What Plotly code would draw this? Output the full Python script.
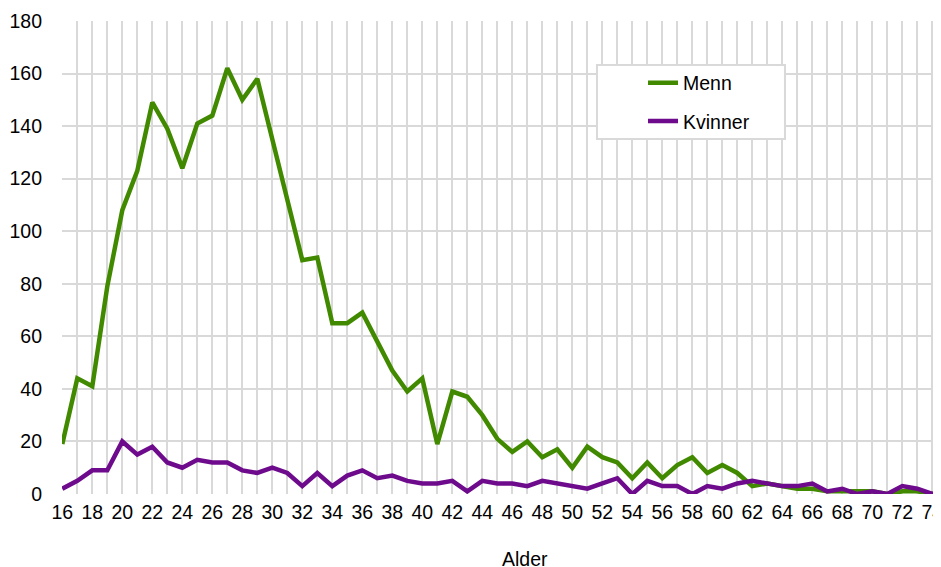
import plotly.graph_objects as go

# Alder 16-75
ages = list(range(16, 76))

menn = [
    19, 44, 41, 79, 108, 123, 149, 139, 124, 141,
    144, 162, 150, 158, 135, 112, 89, 90, 65, 65,
    69, 58, 47, 39, 44, 19, 39, 37, 30, 21,
    16, 20, 14, 17, 10, 18, 14, 12, 6, 12,
    6, 11, 14, 8, 11, 8, 3, 4, 3, 2,
    2, 1, 1, 1, 1, 0, 1, 1, 0, 0,
]

kvinner = [
    2, 5, 9, 9, 20, 15, 18, 12, 10, 13,
    12, 12, 9, 8, 10, 8, 3, 8, 3, 7,
    9, 6, 7, 5, 4, 4, 5, 1, 5, 4,
    4, 3, 5, 4, 3, 2, 4, 6, 0, 5,
    3, 3, 0, 3, 2, 4, 5, 4, 3, 3,
    4, 1, 2, 0, 1, 0, 3, 2, 0, 1,
]

GREEN = "#418a00"
PURPLE = "#6e0a8c"
GRID = "#d9d9d9"
FONT = "Liberation Sans, Arial, sans-serif"
FS = 19.5

fig = go.Figure()
fig.add_trace(go.Scatter(x=ages, y=menn, name="Menn", mode="lines", legendgroup="m",
                         line={"color": GREEN, "width": 4.5}))
fig.add_trace(go.Scatter(x=ages, y=kvinner, name="Kvinner", mode="lines", legendgroup="k",
                         line={"color": PURPLE, "width": 4.5}))

# page body has an 8px margin; size the figure so it fits the window without scrolling
fig.update_layout(
    width=933,
    height=559,
    margin={"l": 54, "r": 0, "t": 13, "b": 73},
    paper_bgcolor="white",
    plot_bgcolor="white",
    font={"family": FONT, "size": FS, "color": "#000000"},
    showlegend=True,
    legend={
        "x": 0.661,
        "y": 0.910,
        "xanchor": "left",
        "yanchor": "top",
        "bgcolor": "rgba(0,0,0,0)",
        "borderwidth": 0,
        "font": {"size": FS},
        "traceorder": "grouped",
        "tracegroupgap": 10,
    },
    xaxis={
        "range": [15.98, 74.58],
        "tick0": 16,
        "dtick": 2,
        "showgrid": True,
        "gridcolor": GRID,
        "gridwidth": 2,
        "minor": {"dtick": 1, "showgrid": True, "gridcolor": GRID, "gridwidth": 2},
        "zeroline": False,
        "showline": False,
        "ticks": "",
        "automargin": False,
        "ticklabelstandoff": 4,
        "ticklabeloverflow": "allow",
    },
    yaxis={
        "range": [0, 180],
        "dtick": 20,
        "showgrid": True,
        "gridcolor": GRID,
        "gridwidth": 2,
        "zeroline": False,
        "showline": False,
        "ticks": "",
        "automargin": False,
        "ticklabelstandoff": 19,
    },
    shapes=[
        {
            "type": "rect",
            "xref": "paper",
            "yref": "paper",
            "x0": 0.6086,
            "x1": 0.8225,
            "y0": 0.7505,
            "y1": 0.907,
            "fillcolor": "white",
            "line": {"color": GRID, "width": 2},
            "layer": "above",
        }
    ],
    annotations=[
        {
            "text": "Alder",
            "xref": "paper",
            "yref": "paper",
            "x": 0.5267,
            "y": -0.1374,
            "xanchor": "center",
            "yanchor": "middle",
            "showarrow": False,
            "font": {"size": FS},
        }
    ],
)

fig.write_html("out.html")
